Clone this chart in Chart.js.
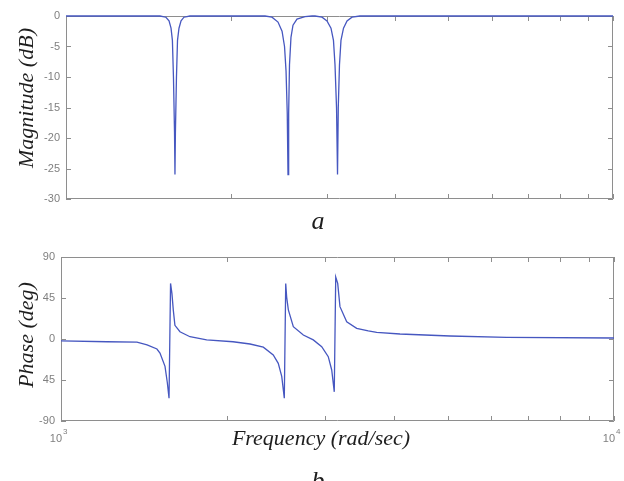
<!DOCTYPE html>
<html>
<head>
<meta charset="utf-8">
<script src="https://cdn.jsdelivr.net/npm/chart.js"></script>
<style>
  body { margin: 0; background: #fff; }
  #wrap { position: relative; width: 624px; height: 481px; overflow: hidden; }
  canvas { position: absolute; left: 0; }
  #mag { top: 0; }
  #phase { top: 240px; }
</style>
</head>
<body>
<div id="wrap">
  <canvas id="mag" width="624" height="240"></canvas>
  <canvas id="phase" width="624" height="241"></canvas>
</div>
<script>
// magnitude response (dB)
const magFreq = [1000, 1485, 1523, 1543, 1556, 1565, 1572, 1579, 1582, 1585, 1592, 1599, 1609, 1623, 1643, 1685,
  2311, 2380, 2441, 2483, 2509, 2525, 2538, 2546, 2553, 2562, 2578, 2600, 2644, 2735, 2817,
  2852, 2938, 3000, 3051, 3083, 3103, 3123, 3136, 3146, 3162, 3182, 3216, 3264, 3333, 3447, 10000];
const magDb = [0, 0, -0.2, -0.8, -2, -4, -10, -19, -26, -19, -10, -4, -2, -0.8, -0.2, 0,
  0, -0.2, -1, -2.5, -5, -9, -16, -26, -16, -8, -3.5, -1.5, -0.5, -0.1, 0,
  0, -0.2, -0.8, -2, -4, -8, -15, -26, -15, -8, -4, -2, -0.8, -0.2, 0, 0];

// phase response (deg)
const phaseFreq = [1000, 1211, 1372, 1431, 1491, 1510, 1542, 1557, 1568, 1578, 1587, 1596, 1607, 1641, 1711,
  1834, 2047, 2197, 2322, 2420, 2471, 2507, 2534, 2549, 2559, 2577, 2631, 2743, 2859, 2961,
  3043, 3087, 3120, 3139, 3165, 3195, 3286, 3425, 3595, 3723, 4102, 5052, 6397, 10000];
const phaseDeg = [-2, -3, -3.5, -6.5, -11, -15.5, -30, -48, -65, 61, 50, 32, 15, 8, 2.5,
  -1, -3, -5.5, -9, -17.6, -26.7, -41, -65, 61, 46, 32, 13.5, 4.4, -1, -8.4,
  -19.4, -34, -58, 68, 61, 35.5, 19, 11.7, 9, 7.3, 5.5, 3.3, 1.8, 1.1];

const freqTicks = [1000, 2000, 3000, 4000, 5000, 6000, 7000, 8000, 9000, 10000];
const magTicks = [-30, -25, -20, -15, -10, -5, 0];
const phaseTicks = [-90, -45, 0, 45, 90];
const phaseTickLabels = ['-90', '45', '0', '45', '90'];
const freqMajor = [1000, 10000];
const freqMajorLabels = [['10', '3'], ['10', '4']];

const lineColor = '#4657c0';
const frameColor = '#8e8e8e';
const tickColor = '#7f7f7f';
const serif = 'italic 22px "Liberation Serif", "DejaVu Serif", serif';

// box + inward tick marks on all four sides
const frameTicks = {
  id: 'frameTicks',
  beforeDatasetsDraw(chart) {
    const { ctx, chartArea: a, scales: { x, y } } = chart;
    const len = 5;
    ctx.save();
    ctx.strokeStyle = frameColor;
    ctx.lineWidth = 1;
    ctx.beginPath();
    x.ticks.forEach(t => {
      const px = Math.round(x.getPixelForValue(t.value)) + 0.5;
      ctx.moveTo(px, a.top); ctx.lineTo(px, a.top + len);
      ctx.moveTo(px, a.bottom); ctx.lineTo(px, a.bottom - len);
    });
    y.ticks.forEach(t => {
      const py = Math.round(y.getPixelForValue(t.value)) + 0.5;
      ctx.moveTo(a.left, py); ctx.lineTo(a.left + len, py);
      ctx.moveTo(a.right, py); ctx.lineTo(a.right - len, py);
    });
    ctx.rect(Math.round(a.left) + 0.5, Math.round(a.top) + 0.5,
      Math.round(a.width) - 1, Math.round(a.height) - 1);
    ctx.stroke();
    ctx.restore();
  },
  afterDraw(chart) {
    const { ctx } = chart;
    const t = chart.options.plugins.frameTicks;
    ctx.save();
    ctx.fillStyle = '#1e1e1e';
    ctx.font = serif;
    ctx.textAlign = 'center';
    ctx.textBaseline = 'alphabetic';
    ctx.save();
    ctx.translate(33, t.yTitleY);
    ctx.rotate(-Math.PI / 2);
    ctx.fillText(t.yTitle, 0, 0);
    ctx.restore();
    (t.texts || []).forEach(s => {
      ctx.font = s.font || serif;
      ctx.fillText(s.text, s.x, s.y);
    });
    if (t.logLabels) {
      const x = chart.scales.x;
      const base = chart.chartArea.bottom + 21;
      ctx.fillStyle = tickColor;
      freqMajor.forEach((v, i) => {
        const px = x.getPixelForValue(v);
        ctx.font = '11px "Liberation Sans", Arial, sans-serif';
        ctx.textAlign = 'right';
        ctx.fillText(freqMajorLabels[i][0], px + 1, base);
        ctx.font = '8px "Liberation Sans", Arial, sans-serif';
        ctx.textAlign = 'left';
        ctx.fillText(freqMajorLabels[i][1], px + 2, base - 8);
      });
    }
    ctx.restore();
  }
};

function xScale() {
  return {
    type: 'logarithmic',
    min: 1000,
    max: 10000,
    grid: { display: false, drawTicks: false },
    border: { display: false },
    ticks: { display: false },
    afterBuildTicks: s => { s.ticks = freqTicks.map(v => ({ value: v })); },
    afterFit: s => { s.height = 0; }
  };
}

function yScale(min, max, width, values, labels) {
  return {
    min: min,
    max: max,
    grid: { display: false, drawTicks: false },
    border: { display: false },
    ticks: {
      padding: 6,
      color: tickColor,
      font: { family: '"Liberation Sans", Arial, sans-serif', size: 11 },
      callback: v => labels ? labels[values.indexOf(v)] : String(v)
    },
    afterBuildTicks: s => { s.ticks = values.map(v => ({ value: v })); },
    afterFit: s => { s.width = width; }
  };
}

function lineData(xs, ys) {
  return {
    datasets: [{
      data: xs.map((f, i) => ({ x: f, y: ys[i] })),
      borderColor: lineColor,
      borderWidth: 1.3,
      pointRadius: 0,
      tension: 0,
      fill: false,
      clip: false
    }]
  };
}

new Chart(document.getElementById('mag'), {
  type: 'line',
  data: lineData(magFreq, magDb),
  options: {
    responsive: false,
    animation: false,
    devicePixelRatio: 1,
    layout: { padding: { top: 16, right: 11, bottom: 41, left: 0 } },
    scales: { x: xScale(), y: yScale(-30, 0, 66, magTicks, null) },
    plugins: {
      legend: { display: false },
      tooltip: { enabled: false },
      frameTicks: {
        yTitle: 'Magnitude (dB)',
        yTitleY: 98,
        texts: [{ text: 'a', x: 318, y: 229, font: 'italic 26px "Liberation Serif", serif' }]
      }
    }
  },
  plugins: [frameTicks]
});

new Chart(document.getElementById('phase'), {
  type: 'line',
  data: lineData(phaseFreq, phaseDeg),
  options: {
    responsive: false,
    animation: false,
    devicePixelRatio: 1,
    layout: { padding: { top: 17, right: 10, bottom: 60, left: 0 } },
    scales: { x: xScale(), y: yScale(-90, 90, 61, phaseTicks, phaseTickLabels) },
    plugins: {
      legend: { display: false },
      tooltip: { enabled: false },
      frameTicks: {
        yTitle: 'Phase (deg)',
        yTitleY: 95,
        logLabels: true,
        texts: [
          { text: 'Frequency (rad/sec)', x: 321, y: 205 },
          { text: 'b', x: 318, y: 249, font: 'italic 26px "Liberation Serif", serif' }
        ]
      }
    }
  },
  plugins: [frameTicks]
});
</script>
</body>
</html>
